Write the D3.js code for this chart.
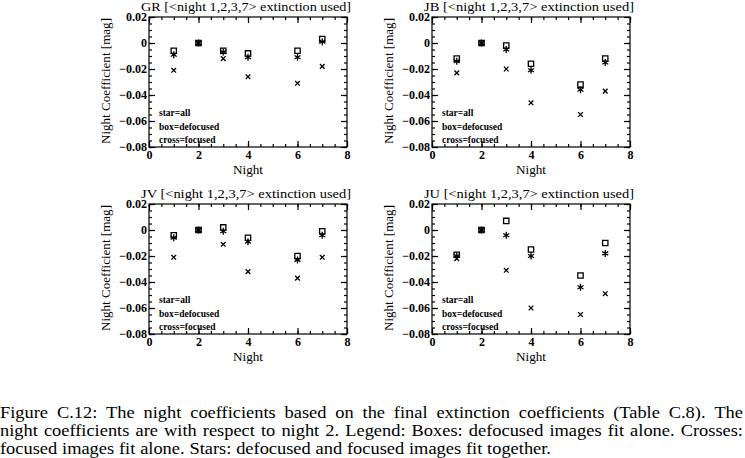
<!DOCTYPE html>
<html>
<head>
<meta charset="utf-8">
<script src="https://cdn.jsdelivr.net/npm/d3@7"></script>
<style>
  body { margin: 0; background: #fff; }
  svg { display: block; }
</style>
</head>
<body>
<div id="chart"></div>
<script>
// night coefficients, relative to night 2
var nights = [1, 2, 3, 4, 6, 7];
var bands = ['GR', 'JB', 'JV', 'JU'];

var grBox   = [-0.006, 0, -0.006, -0.008, -0.006, 0.003];
var grStar  = [-0.009, 0, -0.007, -0.011, -0.011, 0.001];
var grCross = [-0.021, 0, -0.012, -0.026, -0.031, -0.018];

var jbBox   = [-0.012, 0, -0.002, -0.016, -0.032, -0.012];
var jbStar  = [-0.014, 0, -0.005, -0.021, -0.036, -0.015];
var jbCross = [-0.023, 0, -0.020, -0.046, -0.055, -0.037];

var jvBox   = [-0.004, 0, 0.002, -0.006, -0.020, -0.001];
var jvStar  = [-0.006, 0, -0.001, -0.009, -0.023, -0.004];
var jvCross = [-0.021, 0, -0.011, -0.032, -0.037, -0.021];

var juBox   = [-0.019, 0, 0.007, -0.015, -0.035, -0.010];
var juStar  = [-0.020, 0, -0.004, -0.020, -0.044, -0.018];
var juCross = [-0.022, 0, -0.031, -0.060, -0.065, -0.049];

var xTicks = [0, 2, 4, 6, 8];
var xTickLabels = ['0', '2', '4', '6', '8'];
var yTicks = [0.02, 0, -0.02, -0.04, -0.06, -0.08];
var yTickLabels = ['0.02', '0', '\u22120.02', '\u22120.04', '\u22120.06', '\u22120.08'];

var legendLabels = ['star=all', 'box=defocused', 'cross=focused'];

var captionLines = [
  'Figure C.12: The night coefficients based on the final extinction coefficients (Table C.8). The',
  'night coefficients are with respect to night 2. Legend: Boxes: defocused images fit alone. Crosses:',
  'focused images fit alone. Stars: defocused and focused images fit together.'
];

var series = {
  GR: { box: grBox, star: grStar, cross: grCross },
  JB: { box: jbBox, star: jbStar, cross: jbCross },
  JV: { box: jvBox, star: jvStar, cross: jvCross },
  JU: { box: juBox, star: juStar, cross: juCross }
};

var width = 745, height = 458;
var pw = 198, ph = 130;
var origins = [[149, 17], [432, 17], [149, 204], [432, 204]];
var font = '"Liberation Serif", "DejaVu Serif", serif';

var svg = d3.select('#chart').append('svg')
  .attr('width', width)
  .attr('height', height)
  .style('font-family', font);

var x = d3.scaleLinear().domain([0, 8]).range([0, pw]);
var y = d3.scaleLinear().domain([-0.08, 0.02]).range([ph, 0]);

var fmtX = function(d) { return xTickLabels[xTicks.indexOf(d)]; };
var fmtY = function(d) { return yTickLabels[yTicks.findIndex(function(t) { return Math.abs(t - d) < 1e-9; })]; };

var xMinor = d3.range(0, 8.01, 0.5);
var yMinor = d3.range(-0.08, 0.0201, 0.005);

var symBox = d3.symbol().type(d3.symbolSquare2).size(36);
var symStar = d3.symbol().type(d3.symbolAsterisk).size(34);
var symCross = d3.symbol().type(d3.symbolTimes).size(16);

bands.forEach(function(band, i) {
  var g = svg.append('g')
    .attr('transform', 'translate(' + origins[i][0] + ',' + origins[i][1] + ')');

  // minor ticks on all four sides
  g.append('g').attr('transform', 'translate(0,' + ph + ')')
    .call(d3.axisBottom(x).tickValues(xMinor).tickSize(-3).tickSizeOuter(0).tickFormat(''));
  g.append('g')
    .call(d3.axisTop(x).tickValues(xMinor).tickSize(-3).tickSizeOuter(0).tickFormat(''));
  g.append('g')
    .call(d3.axisLeft(y).tickValues(yMinor).tickSize(-3).tickSizeOuter(0).tickFormat(''));
  g.append('g').attr('transform', 'translate(' + pw + ',0)')
    .call(d3.axisRight(y).tickValues(yMinor).tickSize(-3).tickSizeOuter(0).tickFormat(''));

  // major ticks + labels
  g.append('g').attr('transform', 'translate(0,' + ph + ')')
    .call(d3.axisBottom(x).tickValues(xTicks).tickSize(-6).tickSizeOuter(0).tickPadding(3).tickFormat(fmtX));
  g.append('g')
    .call(d3.axisTop(x).tickValues(xTicks).tickSize(-6).tickSizeOuter(0).tickFormat(''));
  g.append('g')
    .call(d3.axisLeft(y).tickValues(yTicks).tickSize(-6).tickSizeOuter(0).tickPadding(2).tickFormat(fmtY));
  g.append('g').attr('transform', 'translate(' + pw + ',0)')
    .call(d3.axisRight(y).tickValues(yTicks).tickSize(-6).tickSizeOuter(0).tickFormat(''));

  g.selectAll('.domain').remove();
  g.selectAll('.tick line').attr('stroke', '#000').attr('stroke-width', 1.2);
  g.selectAll('.tick text')
    .attr('fill', '#000')
    .style('font-family', font)
    .style('font-size', '12px')
    .style('font-weight', 'bold');

  // frame
  g.append('rect')
    .attr('width', pw).attr('height', ph)
    .attr('fill', 'none').attr('stroke', '#000').attr('stroke-width', 1.2);

  // title
  g.append('text')
    .attr('x', pw / 2 - 2).attr('y', -6)
    .attr('text-anchor', 'middle')
    .attr('textLength', 210)
    .attr('lengthAdjust', 'spacingAndGlyphs')
    .style('font-size', '13px')
    .text(band + ' [<night 1,2,3,7> extinction used]');

  // axis labels
  g.append('text')
    .attr('x', pw / 2).attr('y', ph + 27)
    .attr('text-anchor', 'middle')
    .attr('textLength', 30)
    .attr('lengthAdjust', 'spacingAndGlyphs')
    .style('font-size', '13px')
    .text('Night');
  g.append('text')
    .attr('transform', 'translate(-39,' + (ph / 2 - 1) + ') rotate(-90)')
    .attr('text-anchor', 'middle')
    .attr('textLength', 126)
    .attr('lengthAdjust', 'spacingAndGlyphs')
    .style('font-size', '13px')
    .text('Night Coefficient [mag]');

  // data
  var s = series[band];
  var marks = [[s.box, symBox], [s.star, symStar], [s.cross, symCross]];
  marks.forEach(function(m) {
    g.selectAll(null)
      .data(nights.map(function(n, k) { return [n, m[0][k]]; }))
      .enter()
      .append('path')
      .attr('d', m[1])
      .attr('transform', function(d) { return 'translate(' + x(d[0]) + ',' + y(d[1]) + ')'; })
      .attr('fill', 'none')
      .attr('stroke', '#000')
      .attr('stroke-width', 1.3);
  });

  // legend
  g.selectAll(null)
    .data(legendLabels)
    .enter()
    .append('text')
    .attr('x', 10)
    .attr('y', function(d, k) { return 99 + k * 13.5; })
    .style('font-size', '9.5px')
    .style('font-weight', 'bold')
    .text(function(d) { return d; });
});

// caption, justified line by line (glyphs widened a bit, like the TeX font)
var stretch = 1.15;
var capY = [418, 436, 454];
var cap = svg.append('g').attr('transform', 'scale(' + stretch + ',1)');
captionLines.forEach(function(line, i) {
  var words = line.split(' ');
  var t = cap.append('text')
    .attr('y', capY[i])
    .style('font-size', '16px');
  var spans = words.map(function(w) { return t.append('tspan').text(w); });
  var widths = spans.map(function(sp) { return sp.node().getComputedTextLength(); });
  var total = d3.sum(widths);
  var gap = i < captionLines.length - 1 ? ((width - 2) / stretch - total) / (words.length - 1) : 4.2;
  var cx = 0;
  spans.forEach(function(sp, k) {
    sp.attr('x', cx);
    cx += widths[k] + gap;
  });
});
</script>
</body>
</html>
